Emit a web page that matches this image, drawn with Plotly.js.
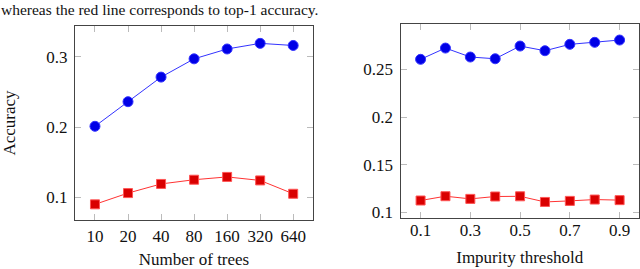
<!DOCTYPE html>
<html>
<head>
<meta charset="utf-8">
<script src="https://cdn.plot.ly/plotly-3.0.1.min.js"></script>
<style>html,body{margin:0;padding:0;background:#fff;}#chart{width:640px;height:269px;}</style>
</head>
<body>
<div id="chart"></div>
<script>
// Left panel: number of trees
var treeLabels = ["10", "20", "40", "80", "160", "320", "640"];
var treesTop5 = [0.201, 0.236, 0.271, 0.297, 0.311, 0.319, 0.316];
var treesTop1 = [0.090, 0.106, 0.119, 0.125, 0.129, 0.124, 0.105];

// Right panel: impurity threshold
var impurity = [0.1, 0.2, 0.3, 0.4, 0.5, 0.6, 0.7, 0.8, 0.9];
var impTop5 = [0.2605, 0.2723, 0.2629, 0.2611, 0.2744, 0.2695, 0.2762, 0.2783, 0.2807];
var impTop1 = [0.1126, 0.1171, 0.1143, 0.1168, 0.1170, 0.1111, 0.1122, 0.1136, 0.1130];

var caption = "whereas the red line corresponds to top-1 accuracy.";

var serif = "Liberation Serif, DejaVu Serif, serif";
var blueLine = {color: "#3333ff", width: 1};
var blueMarker = {symbol: "circle", size: 10, color: "#0000e6", line: {color: "#3333ff", width: 1}};
var redLine = {color: "#ff3333", width: 1};
var redMarker = {symbol: "square", size: 9, color: "#d90000", line: {color: "#ff5555", width: 1}};

var traces = [
  {x: treeLabels, y: treesTop5, xaxis: "x", yaxis: "y", mode: "lines+markers", line: blueLine, marker: blueMarker},
  {x: treeLabels, y: treesTop1, xaxis: "x", yaxis: "y", mode: "lines+markers", line: redLine, marker: redMarker},
  {x: impurity, y: impTop5, xaxis: "x2", yaxis: "y2", mode: "lines+markers", line: blueLine, marker: blueMarker},
  {x: impurity, y: impTop1, xaxis: "x2", yaxis: "y2", mode: "lines+markers", line: redLine, marker: redMarker}
];

var tickFont = {family: serif, size: 17, color: "#111"};
var titleFont = {family: serif, size: 17, color: "#111"};

var axisCommon = {
  showline: true, linecolor: "#444", linewidth: 1, mirror: "ticks",
  ticks: "inside", ticklen: 6, tickcolor: "#bbb", tickwidth: 1,
  showgrid: false, zeroline: false,
  tickfont: tickFont,
  fixedrange: true
};

function ax(extra) { return Object.assign({}, axisCommon, extra); }

var layout = {
  width: 640, height: 269,
  margin: {l: 0, r: 0, t: 0, b: 0},
  paper_bgcolor: "#fff", plot_bgcolor: "#fff",
  showlegend: false,
  xaxis: ax({domain: [75/640, 313/640], type: "category", range: [-0.605, 6.6],
    ticklabelstandoff: 1,
    title: {text: "Number of trees", font: titleFont, standoff: 12}}),
  yaxis: ax({domain: [(269-220)/269, (269-26)/269], range: [0.0677, 0.3437],
    tickvals: [0.1, 0.2, 0.3], ticktext: ["0.1", "0.2", "0.3"], ticklabelstandoff: 3,
    title: {text: "Accuracy", font: titleFont, standoff: 32}}),
  xaxis2: ax({domain: [400.5/640, 639/640], anchor: "y2", range: [0.0193, 0.978],
    tickvals: [0.1, 0.3, 0.5, 0.7, 0.9], ticktext: ["0.1", "0.3", "0.5", "0.7", "0.9"],
    ticklabelstandoff: -3,
    title: {text: "Impurity threshold", font: titleFont, standoff: 12}}),
  yaxis2: ax({domain: [(269-217.5)/269, (269-24)/269], anchor: "x2", range: [0.0948, 0.2975],
    tickvals: [0.1, 0.15, 0.2, 0.25], ticktext: ["0.1", "0.15", "0.2", "0.25"], ticklabelstandoff: 3}),
  annotations: [{
    text: caption, xref: "paper", yref: "paper", x: 0, y: 1,
    xanchor: "left", yanchor: "top", showarrow: false, borderpad: 0,
    yshift: 0,
    font: {family: serif, size: 15.5, color: "#111"}
  }]
};

Plotly.newPlot("chart", traces, layout, {displayModeBar: false, staticPlot: true});
</script>
</body>
</html>
